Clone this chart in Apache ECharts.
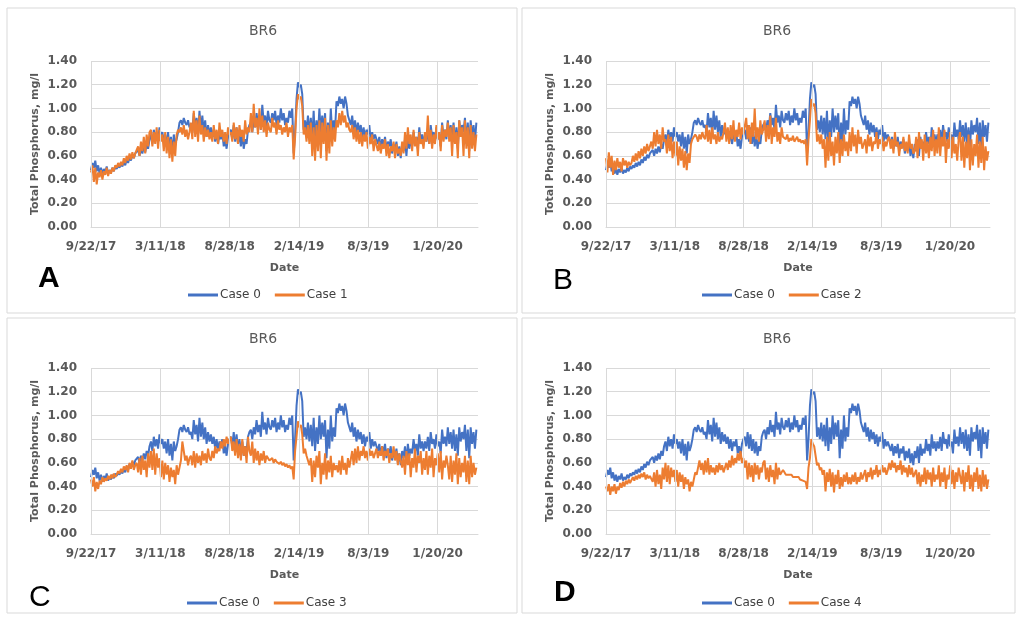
<!DOCTYPE html>
<html>
<head>
<meta charset="utf-8">
<title>BR6 Total Phosphorus</title>
<script src="https://cdn.jsdelivr.net/npm/echarts@6/dist/echarts.min.js"></script>
<style>
  html, body { margin: 0; padding: 0; background: #ffffff; }
  #chart { width: 1019px; height: 617px; }
</style>
</head>
<body>
<div id="chart"></div>
<script>
// Half-weekly samples of total phosphorus (mg/l) at station BR6, starting 9/22/17.
const STEP_DAYS = 3.5;
const X_MAX_DAYS = 949;            // last day shown on the date axis
const TICK_STEP_DAYS = 170;
const tickLabels = ['9/22/17', '3/11/18', '8/28/18', '2/14/19', '8/3/19', '1/20/20'];
const yTicks = [0, 0.2, 0.4, 0.6, 0.8, 1.0, 1.2, 1.4];

const case0 = [
  0.48, 0.54, 0.50, 0.56, 0.47, 0.52, 0.45, 0.50, 0.44, 0.49, 0.46, 0.51, 0.45, 0.48, 0.46, 0.50, 0.47, 0.51,
  0.49, 0.52, 0.50, 0.54, 0.51, 0.55, 0.52, 0.57, 0.54, 0.59, 0.56, 0.61, 0.58, 0.62,
  0.61, 0.65, 0.60, 0.66, 0.62, 0.68, 0.63, 0.70, 0.66, 0.74,
  0.78, 0.70, 0.82, 0.74, 0.80, 0.72, 0.84, 0.76,
  0.80, 0.72, 0.78, 0.68, 0.80, 0.66, 0.76, 0.62, 0.78, 0.70, 0.74, 0.80,
  0.88, 0.90, 0.86, 0.92, 0.88, 0.86, 0.90, 0.84,
  0.86, 0.80, 0.96, 0.84, 0.92, 0.78, 0.98, 0.82, 0.94, 0.80, 0.90, 0.76, 0.86, 0.78,
  0.84, 0.76, 0.82, 0.72, 0.80, 0.70, 0.78, 0.74, 0.80, 0.68, 0.74, 0.66, 0.76, 0.80,
  0.82, 0.74, 0.86, 0.72, 0.84, 0.70, 0.80, 0.68, 0.78, 0.66, 0.74, 0.70, 0.82, 0.86,
  0.88, 0.80, 0.90, 0.84, 0.96, 0.86, 0.92, 0.82, 1.03, 0.88, 0.94, 0.84, 0.98, 0.90,
  0.88, 0.96, 0.90, 0.98, 0.86, 0.94, 0.88, 1.00, 0.90, 0.96, 0.86, 0.92, 0.88, 0.98, 0.92, 1.00,
  0.62, 0.80,
  1.08, 1.22, 1.18, 1.20, 1.12, 0.82, 0.90, 0.80,
  0.94, 0.78, 0.92, 0.74, 0.98, 0.70, 0.90, 0.76, 1.00, 0.80, 0.94, 0.82, 0.96, 0.64, 0.88, 0.72, 1.00, 0.78, 0.90, 0.82,
  1.06, 1.02, 1.10, 1.04, 1.08, 1.00, 1.10, 1.04, 0.94, 0.90,
  0.86, 0.94, 0.82, 0.90, 0.78, 0.88, 0.80, 0.86, 0.76, 0.84, 0.74, 0.82, 0.78, 0.86, 0.72, 0.80, 0.74, 0.78,
  0.78, 0.70, 0.76, 0.66, 0.74, 0.68, 0.76, 0.64, 0.72, 0.68, 0.74, 0.62, 0.70, 0.64, 0.72, 0.60, 0.68, 0.58,
  0.70, 0.64, 0.74, 0.60, 0.76, 0.66, 0.72, 0.68, 0.80, 0.70, 0.76, 0.66, 0.84, 0.72, 0.78, 0.70,
  0.78, 0.72, 0.82, 0.70, 0.86, 0.76, 0.80, 0.72, 0.84, 0.74, 0.78, 0.68, 0.88, 0.76, 0.82, 0.74,
  0.90, 0.76, 0.86, 0.72, 0.88, 0.70, 0.84, 0.66, 0.90, 0.78, 0.86, 0.80, 0.92, 0.70, 0.88, 0.64, 0.90, 0.76, 0.86, 0.72, 0.88
];

const case1 = [
  0.46, 0.52, 0.38, 0.50, 0.36, 0.46, 0.42, 0.48, 0.40, 0.47, 0.44, 0.50, 0.43, 0.48, 0.45, 0.50, 0.47, 0.52,
  0.50, 0.54, 0.51, 0.55, 0.52, 0.58, 0.54, 0.60, 0.56, 0.62, 0.57, 0.63, 0.58, 0.62,
  0.62, 0.68, 0.60, 0.72, 0.64, 0.76, 0.62, 0.78, 0.68, 0.80,
  0.82, 0.68, 0.80, 0.70, 0.84, 0.66, 0.82, 0.72,
  0.78, 0.64, 0.80, 0.62, 0.76, 0.58, 0.74, 0.55, 0.72, 0.60, 0.78, 0.82,
  0.80, 0.84, 0.78, 0.86, 0.76, 0.82, 0.74, 0.80,
  0.88, 0.74, 0.98, 0.76, 0.90, 0.72, 0.94, 0.78, 0.86, 0.72, 0.84, 0.76, 0.82, 0.74,
  0.80, 0.72, 0.86, 0.74, 0.82, 0.70, 0.88, 0.76, 0.82, 0.72, 0.80, 0.70, 0.84, 0.78,
  0.80, 0.72, 0.88, 0.74, 0.84, 0.70, 0.86, 0.76, 0.82, 0.72, 0.90, 0.78, 0.84, 0.80,
  0.96, 0.80, 1.04, 0.84, 0.92, 0.78, 1.00, 0.82, 0.94, 0.80, 0.90, 0.76, 0.88, 0.82,
  0.80, 0.92, 0.84, 0.88, 0.78, 0.90, 0.82, 0.86, 0.78, 0.84, 0.80, 0.88, 0.76, 0.84, 0.80, 0.86,
  0.57, 0.76,
  1.00, 1.12, 1.08, 1.10, 1.02, 0.78, 0.84, 0.72,
  0.86, 0.70, 0.88, 0.60, 0.84, 0.56, 0.86, 0.64, 0.90, 0.58, 0.88, 0.70, 0.92, 0.56, 0.86, 0.62, 0.90, 0.68, 0.84, 0.72,
  0.90, 0.84, 0.96, 0.86, 0.98, 0.88, 0.94, 0.84, 0.88, 0.82,
  0.80, 0.86, 0.74, 0.84, 0.72, 0.82, 0.70, 0.80, 0.68, 0.78, 0.72, 0.80, 0.66, 0.76, 0.70, 0.78, 0.64, 0.74,
  0.74, 0.64, 0.72, 0.62, 0.70, 0.66, 0.74, 0.60, 0.70, 0.58, 0.68, 0.64, 0.72, 0.58, 0.70, 0.62, 0.66, 0.60,
  0.72, 0.62, 0.80, 0.66, 0.84, 0.70, 0.78, 0.64, 0.82, 0.68, 0.76, 0.60, 0.80, 0.70, 0.74, 0.66,
  0.80, 0.72, 0.94, 0.70, 0.82, 0.66, 0.78, 0.70, 0.86, 0.74, 0.80, 0.64, 0.86, 0.72, 0.82, 0.76,
  0.88, 0.72, 0.84, 0.60, 0.86, 0.70, 0.80, 0.58, 0.90, 0.76, 0.84, 0.60, 0.90, 0.66, 0.84, 0.58, 0.86, 0.66, 0.80, 0.64, 0.78
];

const case2 = [
  0.58, 0.46, 0.63, 0.50, 0.60, 0.44, 0.56, 0.48, 0.58, 0.50, 0.55, 0.47, 0.58, 0.52, 0.56, 0.50, 0.55, 0.52,
  0.54, 0.60, 0.55, 0.62, 0.56, 0.64, 0.58, 0.66, 0.60, 0.68, 0.62, 0.70, 0.64, 0.68,
  0.72, 0.66, 0.80, 0.68, 0.82, 0.70, 0.78, 0.66, 0.84, 0.72,
  0.74, 0.62, 0.78, 0.64, 0.76, 0.58, 0.72, 0.60,
  0.72, 0.52, 0.68, 0.56, 0.66, 0.50, 0.64, 0.48, 0.62, 0.54, 0.70, 0.74,
  0.74, 0.78, 0.76, 0.72, 0.78, 0.74, 0.80, 0.76,
  0.74, 0.86, 0.72, 0.82, 0.70, 0.84, 0.74, 0.78, 0.70, 0.80, 0.72, 0.76, 0.74, 0.80,
  0.88, 0.72, 0.84, 0.70, 0.86, 0.74, 0.90, 0.72, 0.82, 0.76, 0.88, 0.74, 0.84, 0.78,
  0.78, 0.92, 0.74, 0.86, 0.70, 0.88, 0.76, 1.00, 0.74, 0.84, 0.72, 0.90, 0.78, 0.82,
  0.90, 0.72, 0.86, 0.74, 0.94, 0.70, 0.84, 0.76, 0.92, 0.72, 0.80, 0.70, 0.84, 0.76,
  0.76, 0.74, 0.78, 0.72, 0.75, 0.73, 0.77, 0.72, 0.74, 0.76, 0.72, 0.74, 0.71, 0.73, 0.70, 0.74,
  0.52, 0.74,
  0.90, 1.08, 1.02, 1.04, 0.96, 0.72, 0.78, 0.70,
  0.78, 0.66, 0.74, 0.50, 0.76, 0.56, 0.80, 0.60, 0.72, 0.52, 0.76, 0.62, 0.80, 0.54, 0.74, 0.60, 0.78, 0.64, 0.72, 0.60,
  0.80, 0.64, 0.84, 0.68, 0.78, 0.62, 0.82, 0.70, 0.76, 0.66,
  0.66, 0.74, 0.62, 0.78, 0.68, 0.76, 0.64, 0.72, 0.70, 0.80, 0.66, 0.74, 0.70, 0.76, 0.64, 0.72, 0.68, 0.74,
  0.76, 0.66, 0.74, 0.62, 0.80, 0.68, 0.72, 0.60, 0.70, 0.66, 0.76, 0.64, 0.72, 0.62, 0.78, 0.66, 0.70, 0.62,
  0.64, 0.76, 0.58, 0.80, 0.66, 0.74, 0.56, 0.78, 0.62, 0.72, 0.58, 0.76, 0.64, 0.82, 0.60, 0.74,
  0.62, 0.84, 0.60, 0.76, 0.68, 0.82, 0.54, 0.74, 0.66, 0.80, 0.58, 0.76, 0.62, 0.70, 0.56, 0.74,
  0.80, 0.56, 0.76, 0.50, 0.72, 0.58, 0.78, 0.48, 0.74, 0.52, 0.70, 0.60, 0.78, 0.50, 0.72, 0.54, 0.76, 0.48, 0.68, 0.56, 0.64
];

const case3 = [
  0.46, 0.40, 0.48, 0.36, 0.44, 0.38, 0.45, 0.42, 0.48, 0.44, 0.47, 0.45, 0.49, 0.46, 0.50, 0.47, 0.51, 0.48,
  0.50, 0.53, 0.51, 0.55, 0.52, 0.57, 0.54, 0.58, 0.52, 0.60, 0.55, 0.62, 0.54, 0.58,
  0.60, 0.52, 0.64, 0.50, 0.66, 0.54, 0.62, 0.48, 0.68, 0.56,
  0.70, 0.54, 0.72, 0.50, 0.68, 0.56, 0.64, 0.48,
  0.62, 0.46, 0.60, 0.50, 0.58, 0.44, 0.56, 0.48, 0.54, 0.42, 0.58, 0.50,
  0.56, 0.62, 0.78, 0.70, 0.62, 0.66, 0.58, 0.64,
  0.66, 0.58, 0.70, 0.56, 0.68, 0.60, 0.66, 0.58, 0.70, 0.62, 0.68, 0.60, 0.72, 0.64,
  0.62, 0.70, 0.64, 0.74, 0.68, 0.72, 0.70, 0.78, 0.72, 0.80, 0.74, 0.82, 0.76, 0.80,
  0.82, 0.70, 0.78, 0.66, 0.80, 0.64, 0.76, 0.62, 0.80, 0.66, 0.74, 0.60, 0.82, 0.70,
  0.66, 0.78, 0.60, 0.72, 0.62, 0.70, 0.58, 0.68, 0.62, 0.70, 0.60, 0.66, 0.64, 0.62,
  0.62, 0.64, 0.60, 0.63, 0.61, 0.62, 0.59, 0.61, 0.58, 0.60, 0.57, 0.59, 0.56, 0.58, 0.55, 0.57,
  0.46, 0.70,
  0.82, 0.95, 0.90, 0.92, 0.84, 0.68, 0.72, 0.66,
  0.66, 0.58, 0.64, 0.44, 0.62, 0.48, 0.66, 0.56, 0.70, 0.42, 0.60, 0.50, 0.68, 0.46, 0.62, 0.52, 0.66, 0.48, 0.60, 0.54,
  0.58, 0.52, 0.62, 0.50, 0.66, 0.54, 0.60, 0.50, 0.64, 0.56,
  0.56, 0.70, 0.58, 0.72, 0.60, 0.74, 0.62, 0.70, 0.66, 0.74, 0.64, 0.70, 0.62, 0.72, 0.66, 0.70, 0.64, 0.68,
  0.72, 0.64, 0.70, 0.66, 0.74, 0.62, 0.70, 0.66, 0.72, 0.60, 0.68, 0.64, 0.74, 0.62, 0.70, 0.58, 0.68, 0.62,
  0.56, 0.66, 0.50, 0.70, 0.58, 0.68, 0.48, 0.64, 0.56, 0.72, 0.52, 0.66, 0.60, 0.70, 0.50, 0.64,
  0.54, 0.70, 0.50, 0.66, 0.56, 0.72, 0.48, 0.64, 0.58, 0.68, 0.52, 0.70, 0.46, 0.62, 0.56, 0.66,
  0.58, 0.46, 0.66, 0.44, 0.62, 0.50, 0.68, 0.42, 0.64, 0.48, 0.60, 0.52, 0.66, 0.44, 0.62, 0.42, 0.66, 0.48, 0.60, 0.50, 0.56
];

const case4 = [
  0.40, 0.36, 0.42, 0.33, 0.40, 0.36, 0.42, 0.34, 0.40, 0.37, 0.43, 0.39, 0.44, 0.40, 0.45, 0.42, 0.46, 0.43,
  0.44, 0.48, 0.45, 0.49, 0.46, 0.50, 0.47, 0.51, 0.48, 0.52, 0.46, 0.50, 0.47, 0.49,
  0.50, 0.44, 0.52, 0.40, 0.54, 0.42, 0.50, 0.38, 0.56, 0.46,
  0.60, 0.44, 0.58, 0.42, 0.56, 0.48, 0.54, 0.44,
  0.54, 0.40, 0.52, 0.44, 0.50, 0.38, 0.48, 0.42, 0.46, 0.36, 0.44, 0.40,
  0.46, 0.52, 0.50, 0.56, 0.62, 0.54, 0.60, 0.50,
  0.62, 0.52, 0.64, 0.50, 0.58, 0.52, 0.56, 0.50, 0.58, 0.52, 0.60, 0.54, 0.58, 0.52,
  0.52, 0.60, 0.54, 0.62, 0.56, 0.66, 0.58, 0.64, 0.60, 0.68, 0.62, 0.70, 0.60, 0.64,
  0.56, 0.62, 0.46, 0.60, 0.48, 0.58, 0.44, 0.60, 0.50, 0.58, 0.46, 0.56, 0.52, 0.60,
  0.62, 0.46, 0.56, 0.44, 0.58, 0.48, 0.54, 0.42, 0.60, 0.46, 0.56, 0.50, 0.52, 0.54,
  0.52, 0.50, 0.51, 0.50, 0.49, 0.50, 0.48, 0.49, 0.48, 0.47, 0.48, 0.46, 0.47, 0.45, 0.46, 0.44,
  0.38, 0.56,
  0.64, 0.80, 0.76, 0.74, 0.66, 0.58, 0.60, 0.54,
  0.56, 0.50, 0.54, 0.36, 0.52, 0.44, 0.55, 0.40, 0.52, 0.35, 0.50, 0.42, 0.54, 0.38, 0.48, 0.40, 0.50, 0.44, 0.52, 0.42,
  0.48, 0.42, 0.50, 0.44, 0.52, 0.42, 0.48, 0.44, 0.52, 0.46,
  0.46, 0.54, 0.44, 0.52, 0.48, 0.56, 0.46, 0.54, 0.50, 0.58, 0.48, 0.54, 0.50, 0.58, 0.52, 0.56, 0.50, 0.54,
  0.60, 0.54, 0.62, 0.56, 0.60, 0.52, 0.58, 0.54, 0.62, 0.50, 0.58, 0.52, 0.56, 0.48, 0.58, 0.50, 0.56, 0.48,
  0.48, 0.54, 0.42, 0.52, 0.40, 0.50, 0.44, 0.56, 0.42, 0.54, 0.46, 0.52, 0.40, 0.56, 0.44, 0.50,
  0.46, 0.58, 0.40, 0.52, 0.44, 0.56, 0.38, 0.50, 0.46, 0.58, 0.42, 0.54, 0.38, 0.52, 0.44, 0.56,
  0.56, 0.42, 0.54, 0.36, 0.52, 0.44, 0.58, 0.38, 0.50, 0.36, 0.52, 0.44, 0.56, 0.38, 0.50, 0.36, 0.54, 0.40, 0.50, 0.38, 0.46
];

const comparisonCases = [
  { name: 'Case 1', values: case1, letter: 'A', letterWeight: 'bold' },
  { name: 'Case 2', values: case2, letter: 'B', letterWeight: 'normal' },
  { name: 'Case 3', values: case3, letter: 'C', letterWeight: 'normal' },
  { name: 'Case 4', values: case4, letter: 'D', letterWeight: 'bold' }
];

const BLUE = '#4472C4';
const ORANGE = '#ED7D31';
const GRID_COLOR = '#d9d9d9';
const TEXT_COLOR = '#595959';
const FONT = '"DejaVu Sans", "Liberation Sans", sans-serif';

// Panel frames: [left, top, width, height]
const frames = [
  [7, 8, 510, 305],
  [522, 8, 493, 305],
  [7, 318, 510, 295],
  [522, 318, 493, 295]
];
// Plot areas inside each panel
const plots = [
  { left: 91, top: 61, width: 387, height: 166 },
  { left: 606, top: 61, width: 384, height: 166 },
  { left: 91, top: 368, width: 387, height: 166 },
  { left: 606, top: 368, width: 384, height: 166 }
];
const titlePos = [[263, 24], [777, 24], [263, 332], [777, 332]];
const legendPos = [[183, 284], [697, 284], [182, 592], [697, 592]];
const letterPos = [[38, 264], [553, 266], [29, 583], [554, 578]];

const toSeriesData = values => values.map((v, i) => [i * STEP_DAYS, v]);

const option = {
  animation: false,
  backgroundColor: '#ffffff',
  textStyle: { fontFamily: FONT },
  title: [],
  legend: [],
  grid: [],
  xAxis: [],
  yAxis: [],
  series: [],
  graphic: []
};

frames.forEach(f => {
  option.graphic.push({
    type: 'rect', silent: true, z: -10,
    shape: { x: f[0], y: f[1], width: f[2], height: f[3] },
    style: { fill: '#ffffff', stroke: GRID_COLOR, lineWidth: 1 }
  });
});

comparisonCases.forEach((c, k) => {
  const p = plots[k];
  option.grid.push({ left: p.left, top: p.top, width: p.width, height: p.height, containLabel: false });

  option.title.push({
    text: 'BR6',
    left: titlePos[k][0], top: titlePos[k][1], textAlign: 'center', padding: 0,
    textStyle: { fontFamily: FONT, fontSize: 14, fontWeight: 'normal', color: TEXT_COLOR }
  });

  option.legend.push({
    data: ['Case 0', c.name].map(n => ({ name: n })),
    left: legendPos[k][0], top: legendPos[k][1],
    orient: 'horizontal',
    itemWidth: 30, itemHeight: 3, itemGap: 14,
    icon: 'rect',
    selectedMode: false,
    textStyle: { fontFamily: FONT, fontSize: 12, fontWeight: 'normal', color: '#404040', padding: [0, 0, 0, -3] }
  });

  option.xAxis.push({
    type: 'value', gridIndex: k,
    min: 0, max: X_MAX_DAYS, interval: TICK_STEP_DAYS,
    name: 'Date', nameLocation: 'middle', nameGap: 36,
    nameTextStyle: { fontFamily: FONT, fontSize: 11, fontWeight: 'bold', color: TEXT_COLOR },
    axisLine: { show: true, lineStyle: { color: GRID_COLOR, width: 1 } },
    axisTick: { show: false },
    splitLine: { show: false },
    axisLabel: {
      margin: 14,
      fontFamily: FONT, fontSize: 12, fontWeight: 'bold', color: TEXT_COLOR,
      formatter: v => {
        const idx = Math.round(v / TICK_STEP_DAYS);
        return (Math.abs(v - idx * TICK_STEP_DAYS) < 1e-6 && tickLabels[idx]) ? tickLabels[idx] : '';
      }
    }
  });

  option.yAxis.push({
    type: 'value', gridIndex: k,
    min: yTicks[0], max: yTicks[yTicks.length - 1], interval: yTicks[1] - yTicks[0],
    name: 'Total Phosphorus, mg/l', nameLocation: 'middle', nameGap: 50,
    nameTextStyle: { fontFamily: FONT, fontSize: 11, fontWeight: 'bold', color: TEXT_COLOR },
    axisLine: { show: false },
    axisTick: { show: false },
    splitLine: { show: true, lineStyle: { color: GRID_COLOR, width: 1 } },
    axisLabel: {
      margin: 14,
      fontFamily: FONT, fontSize: 12, fontWeight: 'bold', color: TEXT_COLOR,
      formatter: v => v.toFixed(2)
    }
  });

  // vertical gridlines at the labelled dates
  option.series.push({
    type: 'line', name: 'dateGrid', xAxisIndex: k, yAxisIndex: k,
    data: [], silent: true, z: 1,
    markLine: {
      silent: true, symbol: ['none', 'none'], animation: false,
      label: { show: false },
      lineStyle: { color: GRID_COLOR, type: 'solid', width: 1 },
      emphasis: { disabled: true },
      data: tickLabels.map((_, i) => ({ xAxis: i * TICK_STEP_DAYS }))
    }
  });

  option.series.push({
    type: 'line', name: 'Case 0', xAxisIndex: k, yAxisIndex: k,
    data: toSeriesData(case0),
    showSymbol: false, symbol: 'none', z: 3,
    lineStyle: { color: BLUE, width: 2 },
    itemStyle: { color: BLUE }
  });

  option.series.push({
    type: 'line', name: c.name, xAxisIndex: k, yAxisIndex: k,
    data: toSeriesData(c.values),
    showSymbol: false, symbol: 'none', z: 4,
    lineStyle: { color: ORANGE, width: 2 },
    itemStyle: { color: ORANGE }
  });

  option.graphic.push({
    type: 'text', silent: true, z: 10,
    left: letterPos[k][0], top: letterPos[k][1],
    style: {
      text: c.letter, fill: '#000000',
      font: c.letterWeight + ' 30px "Liberation Sans", Arial, sans-serif'
    }
  });
});

const chart = echarts.init(document.getElementById('chart'), null, { renderer: 'canvas' });
chart.setOption(option);
</script>
</body>
</html>
